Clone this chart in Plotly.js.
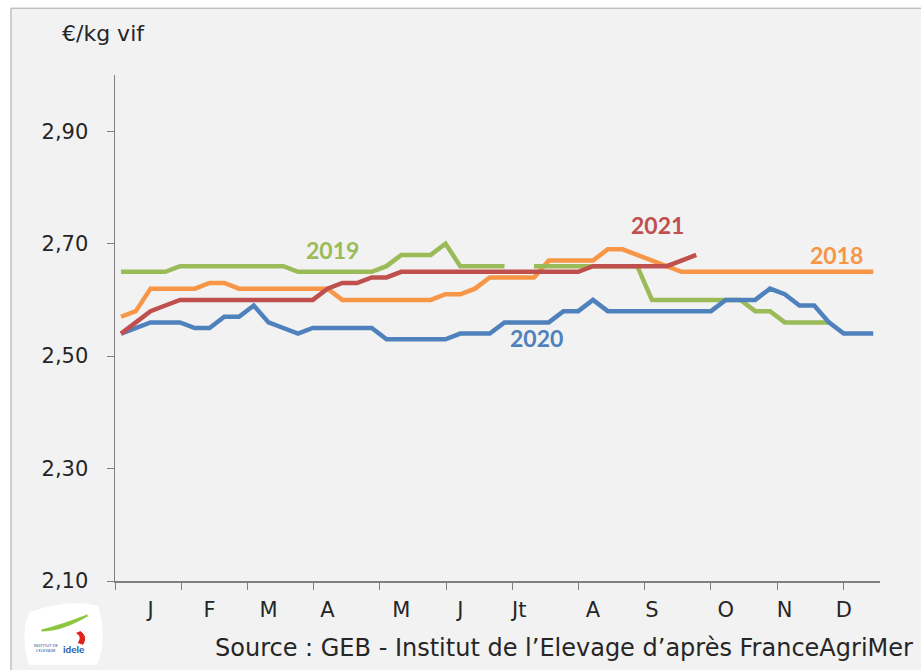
<!DOCTYPE html>
<html>
<head>
<meta charset="utf-8">
<script src="https://cdn.plot.ly/plotly-3.0.1.min.js"></script>
<style>
	body { margin: 0; background: #ffffff; }
	#graph { width: 921px; height: 670px; }
</style>
</head>
<body>
<div id="graph"></div>
<script>
// weeks of the year (category axis)
var weeks = [1, 2, 3, 4, 5, 6, 7, 8, 9, 10, 11, 12, 13, 14, 15, 16, 17, 18, 19, 20,
	21, 22, 23, 24, 25, 26, 27, 28, 29, 30, 31, 32, 33, 34, 35, 36, 37, 38, 39, 40,
	41, 42, 43, 44, 45, 46, 47, 48, 49, 50, 51, 52];

// month labels and the week each one sits under
var monthLabels = ["J", "F", "M", "A", "M", "J", "Jt", "A", "S", "O", "N", "D"];
var monthWeeks = [3, 7, 11, 15, 20, 24, 28, 33, 37, 42, 46, 50];

// price, euro / kg live weight
var price2018 = [2.57, 2.58, 2.62, 2.62, 2.62, 2.62, 2.63, 2.63, 2.62, 2.62,
	2.62, 2.62, 2.62, 2.62, 2.62, 2.60, 2.60, 2.60, 2.60, 2.60,
	2.60, 2.60, 2.61, 2.61, 2.62, 2.64, 2.64, 2.64, 2.64, 2.67,
	2.67, 2.67, 2.67, 2.69, 2.69, 2.68, 2.67, 2.66, 2.65, 2.65,
	2.65, 2.65, 2.65, 2.65, 2.65, 2.65, 2.65, 2.65, 2.65, 2.65,
	2.65, 2.65];

var price2019 = [2.65, 2.65, 2.65, 2.65, 2.66, 2.66, 2.66, 2.66, 2.66, 2.66,
	2.66, 2.66, 2.65, 2.65, 2.65, 2.65, 2.65, 2.65, 2.66, 2.68,
	2.68, 2.68, 2.70, 2.66, 2.66, 2.66, 2.66, null, 2.66, 2.66,
	2.66, 2.66, 2.66, 2.66, 2.66, 2.66, 2.60, 2.60, 2.60, 2.60,
	2.60, 2.60, 2.60, 2.58, 2.58, 2.56, 2.56, 2.56, 2.56];

var price2020 = [2.54, 2.55, 2.56, 2.56, 2.56, 2.55, 2.55, 2.57, 2.57, 2.59,
	2.56, 2.55, 2.54, 2.55, 2.55, 2.55, 2.55, 2.55, 2.53, 2.53,
	2.53, 2.53, 2.53, 2.54, 2.54, 2.54, 2.56, 2.56, 2.56, 2.56,
	2.58, 2.58, 2.60, 2.58, 2.58, 2.58, 2.58, 2.58, 2.58, 2.58,
	2.58, 2.60, 2.60, 2.60, 2.62, 2.61, 2.59, 2.59, 2.56, 2.54,
	2.54, 2.54];

var price2021 = [2.54, 2.56, 2.58, 2.59, 2.60, 2.60, 2.60, 2.60, 2.60, 2.60,
	2.60, 2.60, 2.60, 2.60, 2.62, 2.63, 2.63, 2.64, 2.64, 2.65,
	2.65, 2.65, 2.65, 2.65, 2.65, 2.65, 2.65, 2.65, 2.65, 2.65,
	2.65, 2.65, 2.66, 2.66, 2.66, 2.66, 2.66, 2.66, 2.67, 2.68];

var yTicks = [2.1, 2.3, 2.5, 2.7, 2.9];

var FONT = "'DejaVu Sans', sans-serif";
var BOLD_FONT = "Lato, sans-serif";
var TEXT_COLOR = "#262626";

function makeLine(name, y, color)
{
	return {
		type: "scatter",
		mode: "lines",
		name: name,
		x: weeks.slice(0, y.length),
		y: y,
		line: {color: color, width: 4.5, shape: "linear"},
		hoverinfo: "x+y+name"
	};
}

function monthTicks()
{
	// tick marks split the axis in 12 equal parts
	var ticks = [];
	var start = 0.59, end = 54.47;
	var i;

	for (i = 0; i < 12; i++)
		ticks.push(start + i * (end - start) / 12);

	return ticks;
}

function yearLabel(text, x, y, color)
{
	return {
		text: "<b>" + text + "</b>",
		x: x,
		y: y,
		xref: "x",
		yref: "y",
		showarrow: false,
		font: {family: BOLD_FONT, size: 23, color: color}
	};
}

function genGraph()
{
	var data, layout, labelTrace;

	// empty trace so the month label axis gets drawn
	labelTrace =
	{
		type: "scatter",
		mode: "lines",
		x: monthWeeks,
		y: monthWeeks.map(function () { return null; }),
		xaxis: "x2",
		yaxis: "y",
		showlegend: false,
		hoverinfo: "skip"
	};

	data = [
		makeLine("2018", price2018, "#F79646"),
		makeLine("2019", price2019, "#9BBB59"),
		makeLine("2020", price2020, "#4F81BD"),
		makeLine("2021", price2021, "#C0504D"),
		labelTrace
	];

	layout =
	{
		width: 921,
		height: 670,
		margin: {l: 115, r: 41, t: 75, b: 89},
		paper_bgcolor: "#ffffff",
		plot_bgcolor: "rgba(0,0,0,0)",
		separators: ", ",
		showlegend: false,
		font: {family: FONT, size: 20, color: TEXT_COLOR},
		xaxis:
		{
			range: [0.59, 52.46],
			tickmode: "array",
			tickvals: monthTicks(),
			showticklabels: false,
			ticks: "outside",
			ticklen: 7,
			tickcolor: "#7f7f7f",
			showgrid: false,
			zeroline: false,
			showline: true,
			linecolor: "#7f7f7f",
			linewidth: 1.5
		},
		xaxis2:
		{
			overlaying: "x",
			anchor: "y",
			side: "bottom",
			range: [0.59, 52.46],
			tickmode: "array",
			tickvals: monthWeeks,
			ticktext: monthLabels,
			ticks: "",
			ticklabelstandoff: 14,
			showgrid: false,
			zeroline: false,
			showline: false,
			tickfont: {family: FONT, size: 21, color: TEXT_COLOR}
		},
		yaxis:
		{
			range: [2.1, 3.0],
			tickmode: "array",
			tickvals: yTicks,
			tickformat: ".2f",
			ticks: "outside",
			ticklen: 7,
			tickcolor: "#7f7f7f",
			ticklabelstandoff: 14,
			showgrid: false,
			zeroline: false,
			showline: true,
			linecolor: "#7f7f7f",
			linewidth: 1.5,
			tickfont: {family: FONT, size: 21, color: TEXT_COLOR}
		},
		shapes: [
			{
				type: "rect",
				xref: "paper",
				yref: "paper",
				x0: -0.136,
				x1: 1.07,
				y0: -0.2,
				y1: 1.132,
				fillcolor: "#F2F2F2",
				line: {color: "#A6A6A6", width: 1},
				layer: "below"
			},
			// idele logo: white badge, green swoosh, red mark
			{
				type: "path",
				xref: "paper",
				yref: "paper",
				path: "M -0.112 -0.062 Q -0.06 -0.035 -0.022 -0.05 Q -0.01 -0.12 -0.024 -0.165 L -0.112 -0.165 Q -0.124 -0.11 -0.112 -0.062 Z",
				fillcolor: "#ffffff",
				line: {color: "#ffffff", width: 1},
				layer: "below"
			},
			{
				type: "path",
				xref: "paper",
				yref: "paper",
				path: "M -0.096 -0.098 Q -0.07 -0.088 -0.036 -0.068 Q -0.07 -0.098 -0.096 -0.098 Z",
				fillcolor: "#8DC63F",
				line: {color: "#8DC63F", width: 2},
				layer: "above"
			},
			{
				type: "path",
				xref: "paper",
				yref: "paper",
				path: "M -0.045 -0.1 Q -0.036 -0.11 -0.042 -0.125 L -0.048 -0.122 Q -0.042 -0.11 -0.05 -0.103 Z",
				fillcolor: "#E2231A",
				line: {color: "#E2231A", width: 1},
				layer: "above"
			}
		],
		annotations: [
			yearLabel("2019", 15.37, 2.689, "#9BBB59"),
			yearLabel("2021", 37.4, 2.734, "#C0504D"),
			yearLabel("2018", 49.5, 2.679, "#F79646"),
			yearLabel("2020", 29.2, 2.533, "#4F81BD"),
			{
				text: "€/kg vif",
				xref: "paper",
				yref: "paper",
				x: -0.072,
				y: 1.083,
				xanchor: "left",
				yanchor: "middle",
				showarrow: false,
				font: {family: FONT, size: 22, color: TEXT_COLOR}
			},
			{
				text: "Source : GEB - Institut de l’Elevage d’après FranceAgriMer",
				xref: "paper",
				yref: "paper",
				x: 1.046,
				y: -0.132,
				xanchor: "right",
				yanchor: "middle",
				showarrow: false,
				font: {family: FONT, size: 24, color: TEXT_COLOR}
			},
			{
				text: "INSTITUT DE<br>L'ELEVAGE",
				xref: "paper",
				yref: "paper",
				x: -0.09,
				y: -0.132,
				xanchor: "center",
				yanchor: "middle",
				showarrow: false,
				font: {family: BOLD_FONT, size: 4, color: "#1F5AA6"}
			},
			{
				text: "<b>idele</b>",
				xref: "paper",
				yref: "paper",
				x: -0.054,
				y: -0.134,
				xanchor: "center",
				yanchor: "middle",
				showarrow: false,
				font: {family: BOLD_FONT, size: 10, color: "#1F5AA6"}
			}
		]
	};

	Plotly.newPlot("graph", data, layout, {displayModeBar: false, staticPlot: true});
}

genGraph();
</script>
</body>
</html>
